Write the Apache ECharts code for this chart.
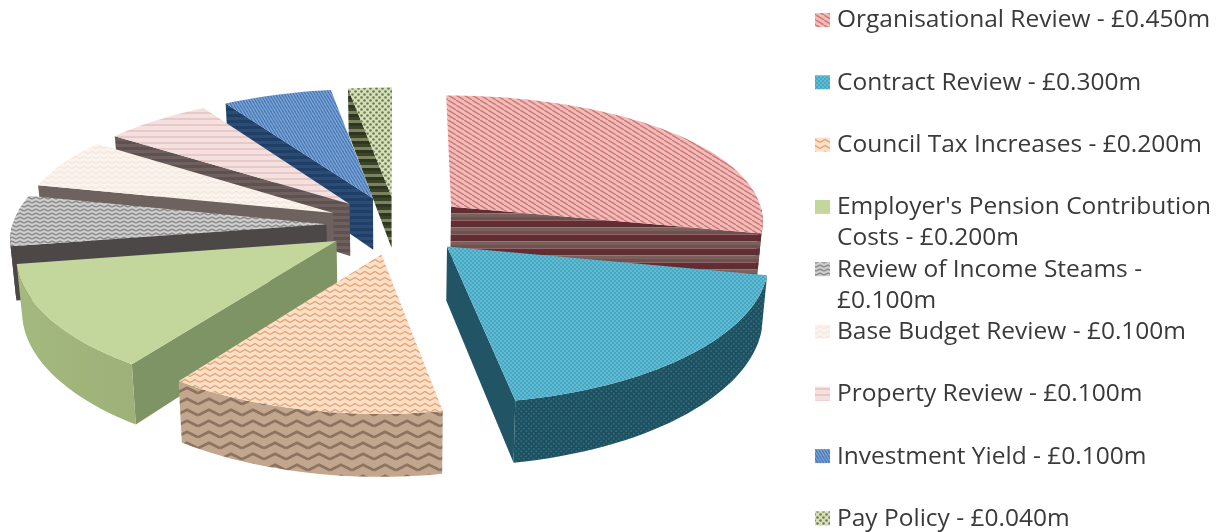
<!DOCTYPE html>
<html>
<head>
<meta charset="utf-8">
<title>Savings</title>
<script src="https://cdn.jsdelivr.net/npm/echarts@6/dist/echarts.min.js"></script>
<style>
html,body{margin:0;padding:0;background:#fff;}
#main{width:1228px;height:532px;}
</style>
</head>
<body>
<div id="main"></div>
<script>
// data
var names = ["Organisational Review", "Contract Review", "Council Tax Increases",
	"Employer's Pension Contribution Costs", "Review of Income Steams", "Base Budget Review",
	"Property Review", "Investment Yield", "Pay Policy"];
var values = [0.45, 0.3, 0.2, 0.2, 0.1, 0.1, 0.1, 0.1, 0.04];

// pie projection
var cx = 397, cy = 225, radius = 314, flat = 0.415, explode = 0.225, thick = 53;
var persX = 0.1, persY = 0.13;
// legend layout
var legendX = 815, legendTextX = 837, legendTop = 20, legendStep = 62.3;

function tile(w, h, draw) {
	var c = document.createElement("canvas");
	c.width = w; c.height = h;
	var g = c.getContext("2d");
	draw(g, w, h);
	return {image: c, repeat: "repeat"};
}
function diag(bg, fg, w, h, lw) {
	return tile(w, h, function(g) {
		g.fillStyle = bg; g.fillRect(0, 0, w, h);
		g.strokeStyle = fg; g.lineWidth = lw;
		[-w, 0, w].forEach(function(d) {
			g.beginPath(); g.moveTo(d, 0); g.lineTo(d + w, h); g.stroke();
		});
	});
}
function bands(list, bandH) {
	return tile(4, bandH * list.length, function(g, w) {
		list.forEach(function(col, i) {
			g.fillStyle = col; g.fillRect(0, i * bandH, w, bandH);
		});
	});
}
function dots(bg, fg, size, r) {
	return tile(size, size, function(g, w, h) {
		g.fillStyle = bg; g.fillRect(0, 0, w, h);
		g.fillStyle = fg;
		[[w / 4, h / 4], [w * 3 / 4, h * 3 / 4]].forEach(function(p) {
			g.beginPath(); g.arc(p[0], p[1], r, 0, Math.PI * 2); g.fill();
		});
	});
}
function wave(bg, fg, w, h, lw) {
	return tile(w, h, function(g) {
		g.fillStyle = bg; g.fillRect(0, 0, w, h);
		g.strokeStyle = fg; g.lineWidth = lw;
		[-h, 0, h].forEach(function(d) {
			g.beginPath();
			g.moveTo(0, d + h * 0.75);
			g.lineTo(w / 2, d + h * 0.25);
			g.lineTo(w, d + h * 0.75);
			g.stroke();
		});
	});
}
function grad(a, b) {
	return {type: "linear", x: 0, y: 0, x2: 1, y2: 0,
		colorStops: [{offset: 0, color: a}, {offset: 1, color: b}]};
}

var tops = [
	diag("#f2bcb9", "#cf7c7c", 8, 5, 1.5),
	dots("#47a9c6", "#86cfe0", 4, 0.8),
	wave("#fbdfc6", "#e2a272", 10, 6, 1.4),
	"#c3d69b",
	wave("#cfcfcf", "#8c8c8c", 8, 4, 1.4),
	wave("#fbf4ee", "#f3e6dc", 8, 5, 1.2),
	bands(["#f4e0de", "#f4e0de", "#e8c9c7"], 2),
	diag("#7da6d8", "#4a78b4", 3, 5, 1.3),
	dots("#d6dfbb", "#6d7d49", 6, 1.3)
];
var cuts = [
	bands(["#5c2f34", "#7a5f5a", "#6d5250", "#6a2a30"], 3.5),
	"#215565",
	"#8a7160",
	"#7f9465",
	"#4c4848",
	"#6e625e",
	bands(["#6e605e", "#5e514f"], 3),
	bands(["#1f3f66", "#2b4c74"], 3),
	bands(["#3a4426", "#7a8260", "#2f3620"], 3)
];
var rims = [
	bands(["#5c2f34", "#7a5f5a", "#6d5250", "#6a2a30"], 3.5),
	dots("#1f5060", "#2f6c7e", 5, 1),
	wave("#c2a78e", "#8d7461", 22, 11, 2.6),
	grad("#a4b97e", "#9db178"),
	"#4c4848",
	"#6e625e",
	"#6e605e",
	"#1f3f66",
	"#3a4426"
];

var total = values.reduce(function(a, b) { return a + b; }, 0);
var starts = [];
values.reduce(function(sum, v, i) { starts[i] = sum / total * 360; return sum + v; }, 0);

function rad(d) { return d * Math.PI / 180; }
function sliceInfo(i) {
	var a0 = starts[i], a1 = a0 + values[i] / total * 360, mid = (a0 + a1) / 2;
	return {a0: a0, a1: a1, ou: explode * Math.sin(rad(mid)), ov: -explode * Math.cos(rad(mid))};
}
// plan coordinates -> screen, v grows toward the viewer
function project(u, v, low) {
	var sx = 1 / (1 - persX * v), sy = 1 / (1 - persY * v);
	var x = u * radius * sx, y = v * radius * flat * sy;
	if (low) { x *= 0.985; y += thick * sy; }
	return [cx + x, cy + y];
}
function arcPts(info, from, to, low) {
	var pts = [], n = Math.max(2, Math.ceil((to - from) / 2));
	for (var k = 0; k <= n; k++) {
		var t = rad(from + (to - from) * k / n);
		pts.push(project(info.ou + Math.sin(t), info.ov - Math.cos(t), low));
	}
	return pts;
}
function poly(points, fill) {
	return {type: "polygon", shape: {points: points}, style: {fill: fill}, silent: true};
}
function cutFace(info, angle, fill) {
	var t = rad(angle);
	return poly([
		project(info.ou, info.ov, false),
		project(info.ou + Math.sin(t), info.ov - Math.cos(t), false),
		project(info.ou + Math.sin(t), info.ov - Math.cos(t), true),
		project(info.ou, info.ov, true)
	], fill);
}

function renderSlice(params, api) {
	var i = api.value(0);
	var info = sliceInfo(i);
	var kids = [];
	// start cut shows when its outward normal (angle-90) faces us, end cut likewise (angle+90)
	if (-Math.cos(rad(info.a0 - 90)) > 0.001) kids.push(cutFace(info, info.a0, cuts[i]));
	if (-Math.cos(rad(info.a1 + 90)) > 0.001) kids.push(cutFace(info, info.a1, cuts[i]));
	var from = Math.max(info.a0, 90), to = Math.min(info.a1, 270);
	if (to > from) {
		kids.push(poly(arcPts(info, from, to, false).concat(arcPts(info, from, to, true).reverse()), rims[i]));
	}
	var top = [project(info.ou, info.ov, false)].concat(arcPts(info, info.a0, info.a1, false));
	kids.push(poly(top, tops[i]));
	return {type: "group", children: kids};
}

// paint back slices first
var order = values.map(function(v, i) { return i; }).sort(function(a, b) {
	return sliceInfo(a).ov - sliceInfo(b).ov;
});

function legendLabel(i) {
	return names[i] + " - £" + values[i].toFixed(3) + "m";
}
var legendItems = [];
names.forEach(function(n, i) {
	var y = legendTop + i * legendStep;
	legendItems.push({type: "rect", shape: {x: legendX, y: y - 7, width: 15, height: 14},
		style: {fill: tops[i]}, silent: true});
	legendItems.push({type: "text", x: legendTextX, y: y - 15, silent: true,
		style: {text: legendLabel(i), fill: "#3a3a3a", fontFamily: "Open Sans", fontSize: 24.5,
			lineHeight: 31, width: 385, overflow: "break", verticalAlign: "top", align: "left"}});
});

var chart = echarts.init(document.getElementById("main"), null, {renderer: "canvas"});
chart.setOption({
	animation: false,
	backgroundColor: "#fff",
	graphic: {elements: legendItems},
	series: [{
		type: "custom",
		coordinateSystem: "none",
		renderItem: renderSlice,
		silent: true,
		data: order.map(function(i) { return [i, values[i]]; })
	}]
});
</script>
</body>
</html>
